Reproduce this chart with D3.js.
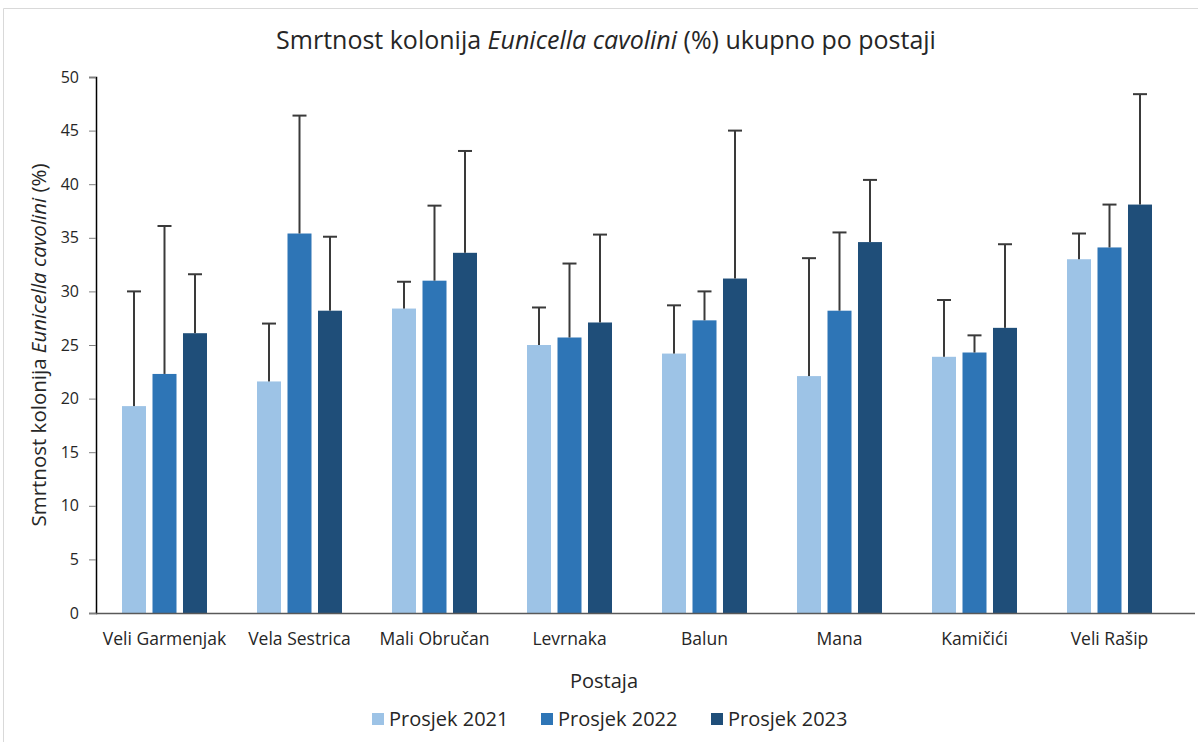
<!DOCTYPE html>
<html><head><meta charset="utf-8">
<script src="https://cdn.jsdelivr.net/npm/d3@7/dist/d3.min.js"></script>
<style>body{margin:0;background:#fff}svg{display:block}text{font-family:"Open Sans",sans-serif;fill:#262626}</style>
</head><body><svg id="c" width="1198" height="742"></svg>
<script>
const categories = ["Veli Garmenjak","Vela Sestrica","Mali Obručan","Levrnaka","Balun","Mana","Kamičići","Veli Rašip"];
const seriesNames = ["Prosjek 2021","Prosjek 2022","Prosjek 2023"];
const mean2021 = [19.3,21.6,28.4,25.0,24.2,22.1,23.9,33.0];
const mean2022 = [22.3,35.4,31.0,25.7,27.3,28.2,24.3,34.1];
const mean2023 = [26.1,28.2,33.6,27.1,31.2,34.6,26.6,38.1];
const err2021 = [10.7,5.4,2.5,3.5,4.5,11.0,5.3,2.4];
const err2022 = [13.8,11.0,7.0,6.9,2.7,7.3,1.6,4.0];
const err2023 = [5.5,6.9,9.5,8.2,13.8,5.8,7.8,10.3];
const yTicks = [0,5,10,15,20,25,30,35,40,45,50];
const colors = ["#9DC3E6","#2E75B6","#1F4E79"];

const means = [mean2021,mean2022,mean2023];
const errs = [err2021,err2022,err2023];
const svg = d3.select("#c");

// outer frame
svg.append("path").attr("d","M3.5,742 V8.5 H1198").attr("fill","none").attr("stroke","#d9d9d9").attr("stroke-width",1);

const L=96, R=1177, T=77, B=613;
const x = d3.scaleBand().domain(categories).range([L+1,R]).padding(0);
const xi = d3.scaleBand().domain(seriesNames).range([0,x.bandwidth()]).paddingInner(0.213).paddingOuter(0.82);
const y = d3.scaleLinear().domain([0,50]).range([B,T]);

// y axis
const ya = svg.append("g").attr("transform",`translate(${L},0)`)
  .call(d3.axisLeft(y).tickValues(yTicks).tickSize(7).tickPadding(10));
ya.select(".domain").attr("stroke","#000").attr("stroke-width",1.5);
ya.selectAll(".tick line").attr("stroke","#7f7f7f");
ya.selectAll(".tick text").attr("font-size",16).style("fill","#262626");

// bars
const rows = categories.map((c,i)=>({c, vals: seriesNames.map((s,k)=>({s, k, v: means[k][i], e: errs[k][i]}))}));
const g = svg.append("g");
const grp = g.selectAll("g.grp").data(rows).join("g").attr("transform",d=>`translate(${x(d.c)},0)`);
grp.selectAll("rect").data(d=>d.vals).join("rect")
  .attr("x",d=>xi(d.s)).attr("width",xi.bandwidth())
  .attr("y",d=>y(d.v)).attr("height",d=>y(0)-y(d.v))
  .attr("fill",d=>colors[d.k]);
// error bars
grp.selectAll("line.ev").data(d=>d.vals).join("line").attr("class","ev")
  .attr("x1",d=>xi(d.s)+xi.bandwidth()/2).attr("x2",d=>xi(d.s)+xi.bandwidth()/2)
  .attr("y1",d=>y(d.v)).attr("y2",d=>y(d.v+d.e))
  .attr("stroke","#3a3a3a").attr("stroke-width",2);
grp.selectAll("line.ec").data(d=>d.vals).join("line").attr("class","ec")
  .attr("x1",d=>xi(d.s)+xi.bandwidth()/2-7).attr("x2",d=>xi(d.s)+xi.bandwidth()/2+7)
  .attr("y1",d=>y(d.v+d.e)).attr("y2",d=>y(d.v+d.e))
  .attr("stroke","#3a3a3a").attr("stroke-width",2);

// x axis
const xa = svg.append("g").attr("transform",`translate(0,${B})`)
  .call(d3.axisBottom(x).tickSize(0).tickPadding(20));
xa.select(".domain").attr("d",`M${L},0.5H1195`).attr("stroke","#595959").attr("stroke-width",1.5);
xa.selectAll(".tick text").attr("font-size",17.5).style("fill","#262626");

// titles
const title = svg.append("text").attr("x",606).attr("y",49).attr("text-anchor","middle").attr("font-size",25);
title.append("tspan").text("Smrtnost kolonija ");
title.append("tspan").attr("font-style","italic").text("Eunicella cavolini");
title.append("tspan").text(" (%) ukupno po postaji");

svg.append("text").attr("x",604).attr("y",688).attr("text-anchor","middle").attr("font-size",20).text("Postaja");

const yt = svg.append("text").attr("transform","translate(46,345) rotate(-90)").attr("text-anchor","middle").attr("font-size",20.5);
yt.append("tspan").text("Smrtnost kolonija ");
yt.append("tspan").attr("font-style","italic").text("Eunicella cavolini");
yt.append("tspan").text(" (%)");

// legend
const legX = [372,541,711];
const leg = svg.append("g").selectAll("g").data(seriesNames).join("g")
  .attr("transform",(d,i)=>`translate(${legX[i]},713)`);
leg.append("rect").attr("width",12).attr("height",12).attr("fill",(d,i)=>colors[i]);
leg.append("text").attr("x",17).attr("y",13).attr("font-size",20).text(d=>d);
</script></body></html>
